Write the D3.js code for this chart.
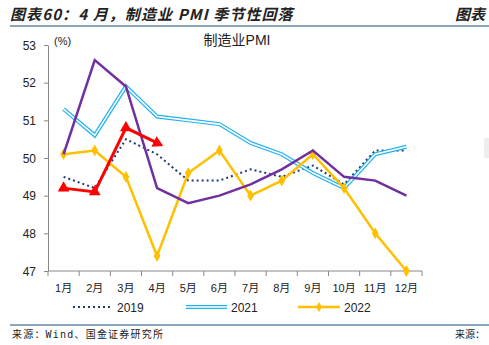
<!DOCTYPE html>
<html>
<head>
<meta charset="utf-8">
<script src="https://cdn.jsdelivr.net/npm/d3@7"></script>
<style>
  body { margin: 0; background: #fff; }
  svg { display: block; }
</style>
</head>
<body>
<div id="chart"></div>
<script>
const months = ['1月', '2月', '3月', '4月', '5月', '6月', '7月', '8月', '9月', '10月', '11月', '12月'];
const yTicks = [47, 48, 49, 50, 51, 52, 53];
const pmi2019 = [49.5, 49.2, 50.5, 50.1, 49.4, 49.4, 49.7, 49.5, 49.8, 49.3, 50.2, 50.2];
const pmi2021 = [51.3, 50.6, 51.9, 51.1, 51.0, 50.9, 50.4, 50.1, 49.6, 49.2, 50.1, 50.3];
const pmi2022 = [50.1, 50.2, 49.5, 47.4, 49.6, 50.2, 49.0, 49.4, 50.1, 49.2, 48.0, 47.0];
const pmi2023 = [50.1, 52.6, 51.9, 49.2, 48.8, 49.0, 49.3, 49.7, 50.2, 49.5, 49.4, 49.0];
const pmi2024 = [49.2, 49.1, 50.8, 50.4];

const width = 489, height = 345;
const margin = { top: 45, right: 67, bottom: 74, left: 48 };

const svg = d3.select('#chart').append('svg')
    .attr('width', width).attr('height', height);

// title bar
svg.append('text')
    .attr('x', 10).attr('y', 20)
    .style('font-family', '"Noto Sans CJK SC", sans-serif')
    .style('font-size', '15px').style('font-weight', 'bold').style('font-style', 'italic')
    .style('letter-spacing', '1.1px')
    .attr('fill', '#222')
    .text('图表60：4 月，制造业 PMI 季节性回落');
svg.append('text')
    .attr('x', 455).attr('y', 20)
    .style('font-family', '"Noto Sans CJK SC", sans-serif')
    .style('font-size', '15px').style('font-weight', 'bold').style('font-style', 'italic')
    .attr('fill', '#222')
    .text('图表');
svg.append('line')
    .attr('x1', 10).attr('x2', width).attr('y1', 26).attr('y2', 26)
    .attr('stroke', '#1f4e79').attr('stroke-width', 1.2);

// grey block at right edge
svg.append('rect')
    .attr('x', 484).attr('y', 138).attr('width', 5).attr('height', 20)
    .attr('fill', '#eee');

const x = d3.scaleBand().domain(months).range([margin.left, width - margin.right]);
const y = d3.scaleLinear().domain([47, 53]).range([height - margin.bottom, margin.top]);
const cx = (d, i) => x(months[i]) + x.bandwidth() / 2;

const labelFont = '"Liberation Sans", "Noto Sans CJK SC", sans-serif';

// y axis
const yAxis = svg.append('g')
    .attr('transform', `translate(${margin.left},0)`)
    .call(d3.axisLeft(y).tickValues(yTicks).tickSize(4).tickSizeOuter(0).tickFormat(d3.format('d')));
yAxis.select('.domain').attr('stroke', '#888');
yAxis.selectAll('.tick line').attr('stroke', '#888');
yAxis.selectAll('text').attr('x', -12).attr('dy', '0.35em')
    .style('font-family', labelFont).style('font-size', '12px').attr('fill', '#222');

// x axis, ticks at band edges
const xAxis = svg.append('g')
    .attr('transform', `translate(0,${height - margin.bottom})`);
xAxis.append('line')
    .attr('x1', margin.left).attr('x2', width - margin.right)
    .attr('stroke', '#888');
const edges = months.map(m => x(m)).concat([width - margin.right]);
xAxis.selectAll('.edge').data(edges).join('line')
    .attr('x1', d => d).attr('x2', d => d).attr('y1', 0).attr('y2', 5)
    .attr('stroke', '#888');
xAxis.selectAll('.lab').data(months).join('text')
    .attr('x', d => x(d) + x.bandwidth() / 2).attr('y', 21)
    .attr('text-anchor', 'middle')
    .style('font-family', labelFont).style('font-size', '11px').attr('fill', '#222')
    .text(d => d);

svg.append('text').attr('x', 54).attr('y', 45)
    .style('font-family', labelFont).style('font-size', '11px').attr('fill', '#222')
    .text('(%)');
svg.append('text').attr('x', 237).attr('y', 45).attr('text-anchor', 'middle')
    .style('font-family', labelFont).style('font-size', '14px').attr('fill', '#222')
    .text('制造业PMI');

const line = d3.line().x(cx).y(d => y(d));

// 2019 dotted
svg.append('path').datum(pmi2019).attr('d', line)
    .attr('fill', 'none').attr('stroke', '#1f3a75').attr('stroke-width', 2)
    .attr('stroke-dasharray', '2,3');
// 2021 double line
svg.append('path').datum(pmi2021).attr('d', line)
    .attr('fill', 'none').attr('stroke', '#22b2ee').attr('stroke-width', 4);
svg.append('path').datum(pmi2021).attr('d', line)
    .attr('fill', 'none').attr('stroke', '#fff').attr('stroke-width', 1.6);
// 2022 gold with diamonds
svg.append('path').datum(pmi2022).attr('d', line)
    .attr('fill', 'none').attr('stroke', '#ffc000').attr('stroke-width', 2.5);
svg.selectAll('.dia').data(pmi2022).join('path')
    .attr('d', d3.symbol(d3.symbolDiamond, 40))
    .attr('transform', (d, i) => `translate(${cx(d, i)},${y(d)})`)
    .attr('fill', '#ffc000');
// 2023 purple
svg.append('path').datum(pmi2023).attr('d', line)
    .attr('fill', 'none').attr('stroke', '#7030a0').attr('stroke-width', 2.5);
// 2024 red with triangles
svg.append('path').datum(pmi2024).attr('d', line)
    .attr('fill', 'none').attr('stroke', '#ff0000').attr('stroke-width', 3);
svg.selectAll('.tri').data(pmi2024).join('path')
    .attr('d', d3.symbol(d3.symbolTriangle, 60))
    .attr('transform', (d, i) => {
        let rot = 0;
        if (i === pmi2024.length - 1) {
            const dx = cx(d, i) - cx(pmi2024[i - 1], i - 1);
            const dy = y(d) - y(pmi2024[i - 1]);
            rot = Math.atan2(dy, dx) * 180 / Math.PI + 90;
        }
        return `translate(${cx(d, i)},${y(d)}) rotate(${rot})`;
    })
    .attr('fill', '#ff0000');

// legend
const lg = svg.append('g').attr('transform', 'translate(0,307)');
lg.append('line').attr('x1', 73).attr('x2', 112)
    .attr('stroke', '#1f3a75').attr('stroke-width', 2).attr('stroke-dasharray', '2,3');
lg.append('text').attr('x', 117).attr('y', 5).text('2019');
lg.append('line').attr('x1', 186).attr('x2', 227)
    .attr('stroke', '#22b2ee').attr('stroke-width', 4);
lg.append('line').attr('x1', 186).attr('x2', 227)
    .attr('stroke', '#fff').attr('stroke-width', 1.6);
lg.append('text').attr('x', 231).attr('y', 5).text('2021');
lg.append('line').attr('x1', 298).attr('x2', 340)
    .attr('stroke', '#ffc000').attr('stroke-width', 2.5);
lg.append('path').attr('d', d3.symbol(d3.symbolDiamond, 30))
    .attr('transform', 'translate(319,0)').attr('fill', '#ffc000');
lg.append('text').attr('x', 344).attr('y', 5).text('2022');
lg.selectAll('text').style('font-family', labelFont).style('font-size', '12px').attr('fill', '#222');

// footer
svg.append('line')
    .attr('x1', 10).attr('x2', width).attr('y1', 325).attr('y2', 325)
    .attr('stroke', '#1f4e79').attr('stroke-width', 1.2);
svg.append('text').attr('x', 12).attr('y', 338)
    .style('font-family', '"DejaVu Sans Mono", "Noto Sans CJK SC", monospace').style('font-size', '10px')
    .style('letter-spacing', '1.2px').attr('fill', '#222')
    .text('来源：Wind、国金证券研究所');
svg.append('text').attr('x', 455).attr('y', 338)
    .style('font-family', '"Noto Sans CJK SC", monospace').style('font-size', '10px')
    .attr('fill', '#222')
    .text('来源：');
</script>
</body>
</html>
